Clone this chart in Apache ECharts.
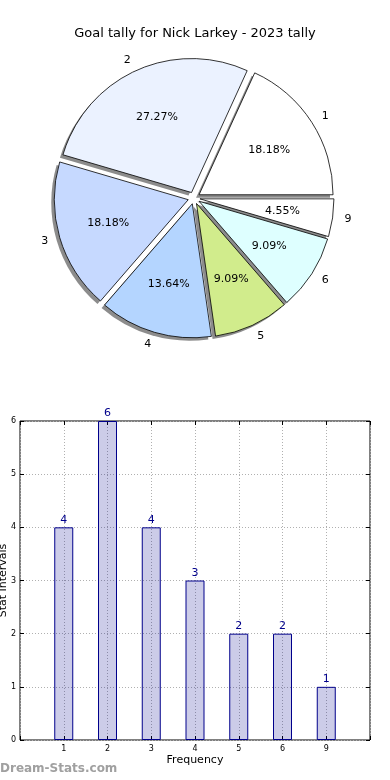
<!DOCTYPE html>
<html>
<head>
<meta charset="utf-8">
<script src="https://cdn.jsdelivr.net/npm/echarts@6/dist/echarts.min.js"></script>
<style>
html,body{margin:0;padding:0;background:#fff;}
#c{width:390px;height:780px;}
</style>
</head>
<body>
<div id="c"></div>
<script>
var titleText = 'Goal tally for Nick Larkey - 2023 tally';
var categories = ['1', '2', '3', '4', '5', '6', '9'];
var counts = [4, 6, 4, 3, 2, 2, 1];
var sliceColors = ['#ffffff', '#ebf2ff', '#c6d9ff', '#b4d5ff', '#d1ec8c', '#deffff', '#ffffff'];
var yTicks = [0, 1, 2, 3, 4, 5, 6];
var xAxisName = 'Frequency';
var yAxisName = 'Stat Intervals';
var watermark = 'Dream-Stats.com';

var FONT = '"DejaVu Sans", sans-serif';
var total = counts.reduce(function (a, b) { return a + b; }, 0);
var CX = 194, CY = 198, R = 134, OFF = 6;

function pieData(withColor) {
  return categories.map(function (c, i) {
    var d = { name: c, value: counts[i], selected: true };
    if (withColor) d.itemStyle = { color: sliceColors[i] };
    return d;
  });
}

var pieCommon = {
  type: 'pie',
  startAngle: 0,
  clockwise: false,
  selectedMode: 'multiple',
  selectedOffset: OFF,
  silent: true,
  avoidLabelOverlap: false
};

function pie(extra) {
  var o = {};
  var k;
  for (k in pieCommon) o[k] = pieCommon[k];
  for (k in extra) o[k] = extra[k];
  return o;
}

var chart = echarts.init(document.getElementById('c'), null, { renderer: 'canvas' });
chart.setOption({
  animation: false,
  backgroundColor: '#ffffff',
  textStyle: { fontFamily: FONT },
  title: {
    text: titleText,
    left: 'center',
    top: 22,
    textStyle: { fontFamily: FONT, fontSize: 13, fontWeight: 'normal', color: '#000' }
  },
  graphic: [{
    type: 'text',
    left: 0,
    top: 763,
    style: { text: watermark, fontFamily: FONT, fontSize: 12, fontWeight: 'bold', fill: '#a0a0a0' }
  }],
  grid: {
    left: 20, right: 20, top: 421, bottom: 40,
    containLabel: false,
    outerBoundsMode: 'none',
    show: true, borderColor: '#000', borderWidth: 1, backgroundColor: 'transparent'
  },
  xAxis: [{
    type: 'value',
    min: -1, max: categories.length, interval: 1,
    name: xAxisName,
    nameLocation: 'middle',
    nameGap: 15,
    nameMoveOverlap: false,
    nameTextStyle: { fontFamily: FONT, fontSize: 11, color: '#000' },
    axisLine: { show: false, onZero: false },
    axisTick: { show: true, inside: true, length: 4, lineStyle: { color: '#000' } },
    axisLabel: {
      fontFamily: FONT, fontSize: 8, color: '#000', margin: 5,
      formatter: function (v) { return (v >= 0 && v < categories.length) ? categories[v] : ''; }
    },
    splitLine: { show: true, lineStyle: { color: '#b0b0b0', type: [1, 2], width: 1 } }
  }, {
    type: 'value', position: 'top',
    min: -1, max: categories.length, interval: 1,
    axisLine: { show: false, onZero: false },
    axisTick: { show: true, inside: true, length: 4, lineStyle: { color: '#000' } },
    axisLabel: { show: false },
    splitLine: { show: false }
  }],
  yAxis: [{
    type: 'value',
    min: yTicks[0], max: yTicks[yTicks.length - 1], interval: 1,
    name: yAxisName,
    nameLocation: 'middle',
    nameRotate: 90,
    nameGap: 11,
    nameMoveOverlap: false,
    nameTextStyle: { fontFamily: FONT, fontSize: 11, color: '#000' },
    axisLine: { show: false, onZero: false },
    axisTick: { show: true, inside: true, length: 4, lineStyle: { color: '#000' } },
    axisLabel: { fontFamily: FONT, fontSize: 8, color: '#000', margin: 4 },
    splitLine: { show: true, lineStyle: { color: '#b0b0b0', type: [1, 2], width: 1 } }
  }, {
    type: 'value', position: 'right',
    min: yTicks[0], max: yTicks[yTicks.length - 1], interval: 1,
    axisLine: { show: false, onZero: false },
    axisTick: { show: true, inside: true, length: 4, lineStyle: { color: '#000' } },
    axisLabel: { show: false },
    splitLine: { show: false }
  }],
  series: [
    pie({
      center: [CX - 3, CY + 3],
      radius: [0, R],
      z: 1,
      label: { show: false },
      labelLine: { show: false },
      itemStyle: { color: 'rgba(0,0,0,0.45)', borderWidth: 0 },
      data: pieData(false)
    }),
    pie({
      center: [CX, CY],
      radius: [0, R],
      z: 2,
      label: {
        show: true, position: 'outside', fontFamily: FONT, fontSize: 11, color: '#000',
        formatter: '{b}', distanceToLabelLine: 0
      },
      labelLine: { show: false, length: 12, length2: 0 },
      itemStyle: { borderColor: '#000', borderWidth: 0.8 },
      data: pieData(true)
    }),
    pie({
      center: [CX, CY],
      radius: [0, R * 1.2],
      z: 3,
      itemStyle: { color: 'rgba(0,0,0,0)', borderWidth: 0 },
      label: {
        show: true, position: 'inside', fontFamily: FONT, fontSize: 11, color: '#000',
        formatter: function (p) { return (p.value / total * 100).toFixed(2) + '%'; }
      },
      labelLine: { show: false },
      data: pieData(false)
    }),
    {
      type: 'bar',
      xAxisIndex: 0,
      yAxisIndex: 0,
      barWidth: 19,
      itemStyle: { color: 'rgba(0,0,139,0.2)', borderColor: '#00008b', borderWidth: 1 },
      label: { show: true, position: 'top', distance: 2, fontFamily: FONT, fontSize: 11, color: '#00008b' },
      data: counts.map(function (v, i) { return [i, v]; })
    }
  ]
});
</script>
</body>
</html>
